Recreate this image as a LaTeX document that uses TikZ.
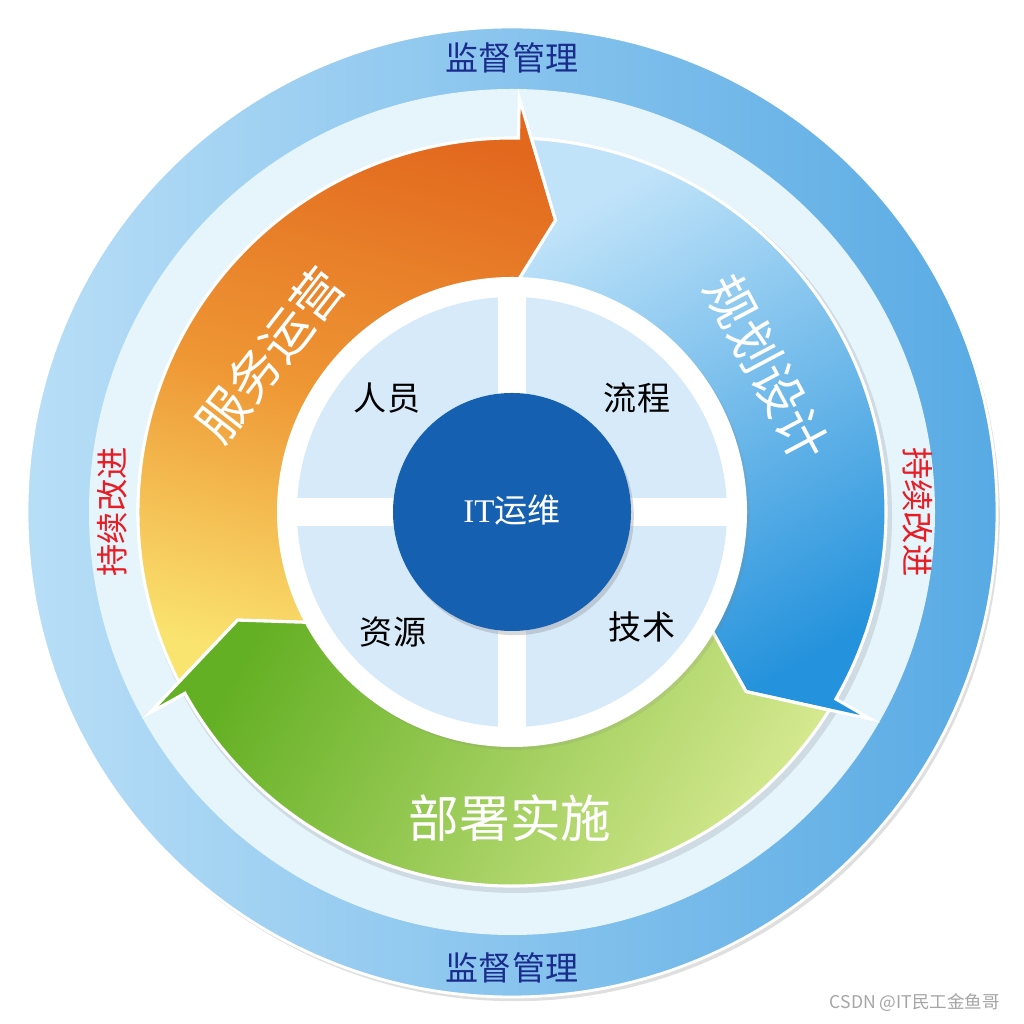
\documentclass[tikz,border=0pt]{standalone}
\usepackage{fontspec}
\setmainfont{Liberation Serif}
\newfontfamily\cjk{Noto Sans CJK SC}
\usepackage{tikz}
\usetikzlibrary{shadows, positioning, calc}

\definecolor{ringblueL}{RGB}{184,222,247}
\definecolor{ringblueR}{RGB}{88,170,228}
\definecolor{paleband}{RGB}{230,244,252}
\definecolor{quadfill}{RGB}{214,234,249}
\definecolor{coreblue}{RGB}{21,96,176}
\definecolor{navytext}{RGB}{26,44,140}
\definecolor{loopred}{RGB}{232,28,36}
\definecolor{orangeA}{RGB}{226,104,30}
\definecolor{orangeM}{RGB}{238,150,52}
\definecolor{orangeB}{RGB}{250,228,112}
\definecolor{blueA}{RGB}{192,227,249}
\definecolor{blueB}{RGB}{36,146,220}
\definecolor{greenA}{RGB}{100,176,36}
\definecolor{greenB}{RGB}{216,234,146}
\definecolor{markgray}{RGB}{165,165,165}

\begin{document}
\begin{tikzpicture}[
    x=0.025cm, y=0.025cm,
    arrowband/.style={draw=white, line width=2.2pt, line join=miter},
    cjktext/.style={font={\cjk\fontsize{#1}{#1}\selectfont}, inner sep=0pt, align=center},
    bandtext/.style={cjktext=23.5, text=navytext},
    looptext/.style={cjktext=23, text=loopred},
    arrowtext/.style={cjktext=36, text=white},
    quadtext/.style={cjktext=23.5, text=black},
    coretext/.style={cjktext=23.5, text=white},
]
\useasboundingbox (0,0) rectangle (1024,1024);
\fill[white] (0,0) rectangle (1024,1024);

\begin{scope}[shift={(512,512)}]
% outer rings
\shade[left color=ringblueL, right color=ringblueR, draw=white, line width=2pt,
    drop shadow={opacity=0.25, shadow xshift=2pt, shadow yshift=-3pt}]
    (0,0) circle[radius=485];
\fill[paleband] (0,0) circle[radius=423];
\fill[black, opacity=0.10] (3,-4) circle[radius=377];

% three arrows, clockwise
\shadedraw[arrowband, top color=orangeA, bottom color=orangeB, middle color=orangeM, shading angle=-15]
    (207:374) arc[start angle=207, end angle=89, radius=374]
    -- (89:414) -- (81.5:295) -- (89:228)
    arc[start angle=89, end angle=209, radius=228]
    -- (201.5:295) -- cycle;
\shadedraw[arrowband, top color=blueA, bottom color=blueB, shading angle=30]
    (87:374) arc[start angle=87, end angle=-30, radius=374]
    -- (-30:414) -- (-37.5:295) -- (-30:228)
    arc[start angle=-30, end angle=89, radius=228]
    -- (81.5:295) -- cycle;
\shadedraw[arrowband, top color=greenA, bottom color=greenB, shading angle=60]
    (-32:374) arc[start angle=-32, end angle=-151, radius=374]
    -- (-151:414) -- (-158.5:295) -- (-151:228)
    arc[start angle=-151, end angle=-30, radius=228]
    -- (-37.5:295) -- cycle;

% inner disk and quadrants
\fill[white, drop shadow={opacity=0.15, shadow xshift=2pt, shadow yshift=-2pt}] (0,0) circle[radius=235];
\begin{scope}
    \clip (0,0) circle[radius=215];
    \fill[quadfill] (14,14) rectangle (220,220);
    \fill[quadfill] (-14,14) rectangle (-220,220);
    \fill[quadfill] (-14,-14) rectangle (-220,-220);
    \fill[quadfill] (14,-14) rectangle (220,-220);
\end{scope}
\fill[coreblue, drop shadow={opacity=0.3, shadow xshift=2pt, shadow yshift=-3pt}] (0,0) circle[radius=119];

% labels
\node[bandtext] (topband) at (0,454) {监督管理};
\node[bandtext] (bottomband) at (0,-456) {监督管理};
\node[looptext, rotate=90] (leftloop) at (-400,0) {持续改进};
\node[looptext, rotate=-90] (rightloop) at (406,0) {持续改进};
\node[arrowtext, rotate=52] (ops) at (-242,157) {服务运营};
\node[arrowtext, rotate=-62] (plan) at (255,144) {规划设计};
\node[arrowtext] (deploy) at (-2,-306) {部署实施};
\node[quadtext] (people) at (-125,114) {人员};
\node[quadtext] (process) at (125,114) {流程};
\node[quadtext] (resource) at (-119,-120) {资源};
\node[quadtext] (tech) at (130,-115) {技术};
\node[coretext] (core) at (0,2) {{\rmfamily IT}运维};
\end{scope}

\node[cjktext=12.5, text=markgray] (mark) at (915,21) {CSDN @IT民工金鱼哥};
\end{tikzpicture}
\end{document}
